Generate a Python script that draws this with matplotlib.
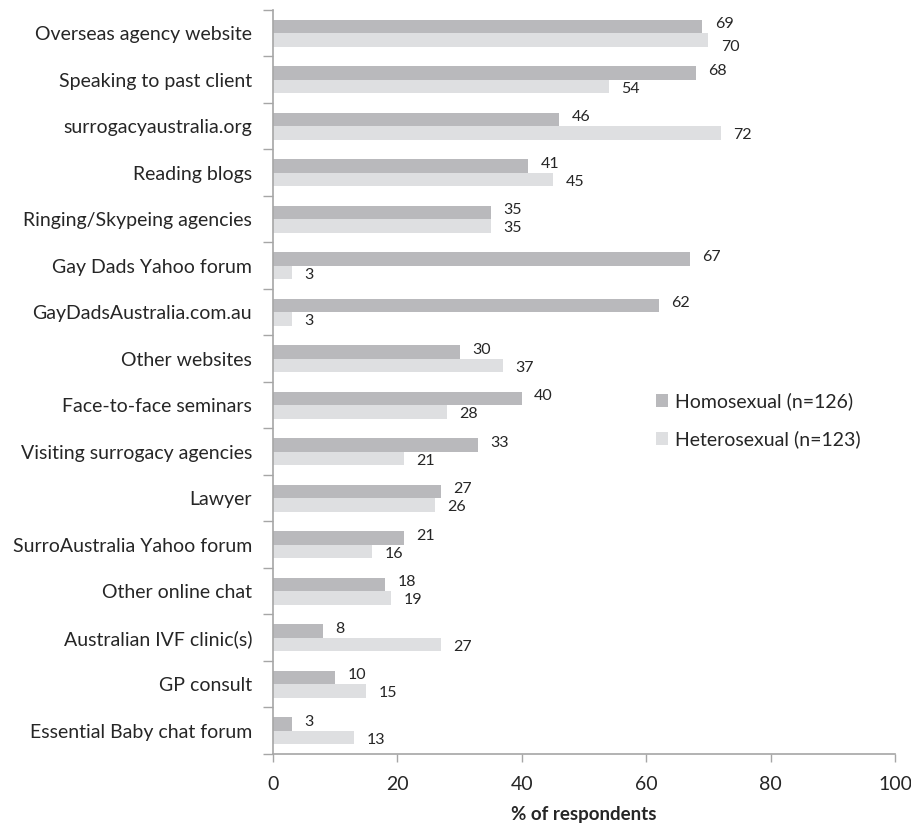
import numpy as np
import matplotlib
matplotlib.use('Agg')
import matplotlib.pyplot as plt
from matplotlib.ticker import FixedLocator

plt.rcParams['font.family'] = ['Lato', 'DejaVu Sans']

# 数据
labels = ["Overseas agency website", "Speaking to past client", "surrogacyaustralia.org",
          "Reading blogs", "Ringing/Skypeing agencies", "Gay Dads Yahoo forum",
          "GayDadsAustralia.com.au", "Other websites", "Face-to-face seminars",
          "Visiting surrogacy agencies", "Lawyer", "SurroAustralia Yahoo forum",
          "Other online chat", "Australian IVF clinic(s)", "GP consult",
          "Essential Baby chat forum"]
homo = [69, 68, 46, 41, 35, 67, 62, 30, 40, 33, 27, 21, 18, 8, 10, 3]
hetero = [70, 54, 72, 45, 35, 3, 3, 37, 28, 21, 26, 16, 19, 27, 15, 13]
xticks = [0, 20, 40, 60, 80, 100]

c_homo = '#b9b9bc'
c_hetero = '#dedfe1'
txt = '#262626'
axc = '#a6a6a6'

fig = plt.figure(figsize=(9.12, 8.25), dpi=100)
ax = fig.add_axes([0.2993, 0.0861, 0.6821, 0.9018])

n = len(labels)
y = np.arange(n)
bw = 0.29
ax.barh(y - bw / 2, homo, height=bw, color=c_homo, label='Homosexual (n=126)')
ax.barh(y + bw / 2, hetero, height=bw, color=c_hetero, label='Heterosexual (n=123)')

# 数值标签（第一组的下方标签略往下挪，避免与上方重叠）
for i in range(n):
    ax.annotate(str(homo[i]), (homo[i], y[i] - bw / 2), xytext=(9, 1.5), textcoords='offset points',
                va='center', ha='left', fontsize=11.5, color=txt)
    dy = -5 if i == 0 else -1.5
    ax.annotate(str(hetero[i]), (hetero[i], y[i] + bw / 2), xytext=(9, dy), textcoords='offset points',
                va='center', ha='left', fontsize=11.5, color=txt)

ax.set_ylim(n - 0.5, -0.5)
ax.set_xlim(0, 100)
ax.set_yticks(y)
ax.set_yticklabels(labels, fontsize=14, color=txt)
ax.yaxis.set_minor_locator(FixedLocator(np.arange(-0.5, n, 1)))
ax.tick_params(axis='y', which='major', length=0, pad=15)
ax.tick_params(axis='y', which='minor', length=7, color=axc, width=1)

ax.set_xticks(xticks)
ax.set_xticklabels([str(v) for v in xticks], fontsize=14, color=txt)
ax.tick_params(axis='x', which='major', length=6, color=axc, width=1, pad=10)
ax.set_xlabel('% of respondents', fontsize=13.5, fontweight='bold', color=txt, labelpad=9)

for s in ['top', 'right']:
    ax.spines[s].set_visible(False)
for s in ['left', 'bottom']:
    ax.spines[s].set_color(axc)
    ax.spines[s].set_linewidth(1.2)

leg = ax.legend(loc='upper left', bbox_to_anchor=(0.616, 0.486), frameon=False, fontsize=14,
                borderpad=0, borderaxespad=0,
                handlelength=0.62, handleheight=0.62, handletextpad=0.35, labelspacing=1.05)
for t in leg.get_texts():
    t.set_color(txt)

fig.savefig('out.png', dpi=100)
